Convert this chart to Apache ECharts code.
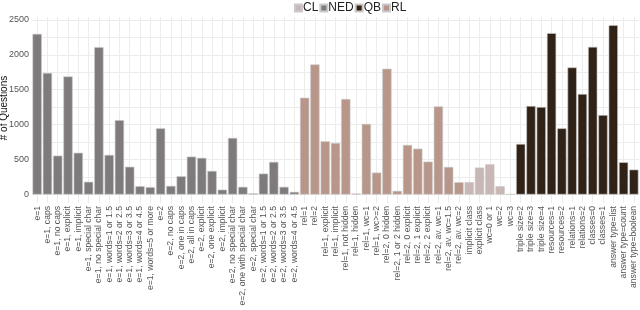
<!DOCTYPE html>
<html><head><meta charset="utf-8">
<script src="https://cdn.jsdelivr.net/npm/echarts@6/dist/echarts.min.js"></script>
<style>html,body{margin:0;padding:0;background:#fff}#c{width:640px;height:310px}</style>
</head><body><div id="c"></div>
<script>
// NED (named entities) bars
const nedCategories = ["e=1","e=1, caps","e=1, no caps","e=1, explicit","e=1, implicit","e=1, special char","e=1, no special char","e=1, words=1 or 1.5","e=1, words=2 or 2.5","e=1, words=3 or 3.5","e=1, words=4 or 4.5","e=1, words=5 or more","e=2","e=2, no caps","e=2, one in caps","e=2, all in caps","e=2, explicit","e=2, one explicit","e=2, implicit","e=2, no special char","e=2, one with special char","e=2, special char","e=2, words=1 or 1.5","e=2, words=2 or 2.5","e=2, words=3 or 3.5","e=2, words=4 or 4.5"];
const nedValues = [2300,1740,557,1690,598,183,2110,567,1065,398,120,106,948,124,262,543,525,338,70,810,110,16,300,467,110,38];
// RL (relations) bars
const rlCategories = ["rel=1","rel=2","rel=1, explicit","rel=1, implicit","rel=1, not hidden","rel=1, hidden","rel=1, wc=1","rel=1, wc>=2","rel=2, 0 hidden","rel=2, 1 or 2 hidden","rel=2, 0 explicit","rel=2, 1 explicit","rel=2, 2 explicit","rel=2, av. wc=1","rel=2, av. wc=1.5","rel=2, av. wc=2"];
const rlValues = [1386,1862,762,738,1367,14,1010,314,1800,52,710,657,471,1262,395,176];
// CL (classes) bars
const clCategories = ["implicit class","explicit class","wc=0 or 1","wc=2","wc=3"];
const clValues = [178,386,433,119,5];
// QB (query building) bars
const qbCategories = ["triple size=2","triple size=3","triple size=4","resources=1","resources=2","relations=1","relations=2","classes=0","classes=1","answer type=list","answer type=count","answer type=boolean"];
const qbValues = [724,1267,1252,2310,948,1819,1438,2114,1138,2424,462,357];
// y-axis tick labels
const yTicks = [0,500,1000,1500,2000,2500];
const yTitle = '# of Questions';

const categories = [].concat(nedCategories, rlCategories, clCategories, qbCategories);
const groups = [
  {name:'NED', cats:nedCategories, vals:nedValues, color:'#7f7b7c'},
  {name:'RL', cats:rlCategories, vals:rlValues, color:'#b8978a'},
  {name:'CL', cats:clCategories, vals:clValues, color:'#c8b7b4'},
  {name:'QB', cats:qbCategories, vals:qbValues, color:'#312217'}
];
const series = groups.map(g => {
  const data = categories.map(c => {
    const i = g.cats.indexOf(c);
    return i >= 0 ? g.vals[i] : null;
  });
  return {
    name: g.name, type: 'bar', data: data,
    barWidth: '90%', barGap: '-100%',
    itemStyle: {color: g.color, borderColor: '#c9c9c9', borderWidth: 0.6},
    emphasis: {disabled: true}, animation: false
  };
});

const font = 'Liberation Sans, Arial, Helvetica, sans-serif';
const chart = echarts.init(document.getElementById('c'), null, {renderer: 'canvas'});
chart.setOption({
  backgroundColor: '#fff',
  animation: false,
  textStyle: {fontFamily: font},
  legend: {
    data: ['CL','NED','QB','RL'],
    top: -3, left: 289,
    itemWidth: 7, itemHeight: 7, itemGap: 1,
    icon: 'rect',
    textStyle: {fontSize: 12, color: '#222', fontFamily: font, padding: [0,0,0,-4]},
    selectedMode: false
  },
  graphic: [{
    type: 'text', x: 4.5, y: 108, rotation: Math.PI / 2,
    style: {text: yTitle, fontSize: 10, fill: '#111', fontFamily: font, align: 'center', verticalAlign: 'middle'},
    silent: true
  }],
  grid: {left: 32, right: 1, top: 17, bottom: 107, containLabel: false, outerBoundsMode: 'none'},
  xAxis: {
    type: 'category', data: categories,
    axisLine: {show: false}, axisTick: {show: false},
    splitLine: {show: true, alignWithLabel: true, lineStyle: {color: '#ececec', width: 1}},
    axisLabel: {rotate: 90, interval: 0, fontSize: 8.6, color: '#555', margin: 3, fontFamily: font}
  },
  yAxis: {
    type: 'value', min: -121, max: 2541,
    minInterval: 250, maxInterval: 250,
    axisLine: {show: false}, axisTick: {show: false},
    axisLabel: {
      fontSize: 9, color: '#555', margin: 3, fontFamily: font,
      showMinLabel: false, showMaxLabel: false,
      formatter: v => (yTicks.indexOf(v) >= 0 ? String(v) : '')
    },
    splitLine: {show: true, showMinLine: false, showMaxLine: false, lineStyle: {color: '#ececec', width: 1}}
  },
  series: series
});
</script>
</body></html>
